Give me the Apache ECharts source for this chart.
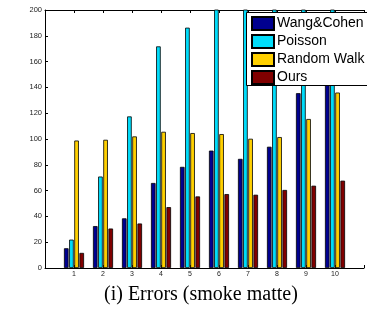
<!DOCTYPE html>
<html>
<head>
<meta charset="utf-8">
<script src="https://cdn.jsdelivr.net/npm/echarts@6/dist/echarts.min.js"></script>
<style>
  html, body { margin: 0; padding: 0; background: #fff; }
  #chart { width: 367px; height: 312px; }
</style>
</head>
<body>
<div id="chart"></div>
<script>
// x positions of the groups and their tick labels
const categories = [1, 2, 3, 4, 5, 6, 7, 8, 9, 10];
const xTickLabels = ['1', '2', '3', '4', '5', '6', '7', '8', '9', '10'];

// errors per method (Poisson 6-10 run off the top of the axes)
const wangCohen = [15.3, 32.5, 38.5, 65.9, 78.4, 91, 84.6, 94, 135.5, 150];
const poisson = [22, 70.9, 117.5, 171.8, 186.3, 215, 225, 240, 260, 280];
const randomWalk = [98.8, 99.4, 102, 105.6, 104.6, 103.8, 100.2, 101.5, 115.5, 136];
const ours = [11.7, 30.6, 34.5, 47.2, 55.5, 57.3, 56.8, 60.5, 63.8, 67.7];

const seriesNames = ['Wang&Cohen', 'Poisson', 'Random Walk', 'Ours'];
const seriesColors = ['#00008f', '#00dcfa', '#ffd000', '#800000'];
const seriesValues = [wangCohen, poisson, randomWalk, ours];

const chart = echarts.init(document.getElementById('chart'));

/**
 * x axis shared settings (bottom with labels, top as box edge)
 */
const xAxisBase = {
  type: 'value',
  min: 0,
  max: 11,
  interval: 1,
  splitLine: { show: false },
  axisLine: { show: true, onZero: false, lineStyle: { color: '#000', width: 1 } },
  axisTick: { show: true, inside: true, length: 3, lineStyle: { color: '#000' } },
};

const option = {
  animation: false,
  title: {
    text: '(i) Errors (smoke matte)',
    left: 99,
    top: 280,
    textStyle: {
      fontFamily: 'Liberation Serif',
      fontSize: 20,
      fontWeight: 'normal',
      color: '#000',
    },
  },
  // legend frame runs off the right edge, like the cropped figure
  graphic: [
    {
      type: 'rect',
      z: 3,
      shape: { x: 246.5, y: 12.5, width: 140, height: 73 },
      style: { fill: '#fff', stroke: '#000', lineWidth: 1 },
    },
  ],
  legend: {
    orient: 'vertical',
    left: 246,
    top: 12,
    z: 5,
    padding: [4, 0, 1, 5],
    itemWidth: 22,
    itemHeight: 13,
    itemGap: 3,
    icon: 'rect',
    textStyle: {
      fontFamily: 'Liberation Sans',
      fontSize: 14,
      color: '#000',
      padding: [0, 0, 0, -2],
    },
    data: seriesNames,
  },
  grid: { left: 45, top: 10, bottom: 44, right: -5 },
  xAxis: [
    Object.assign({}, xAxisBase, {
      position: 'bottom',
      axisLabel: {
        margin: 3,
        fontFamily: 'Liberation Sans',
        fontSize: 7,
        color: '#222',
        formatter: (v) => xTickLabels[categories.indexOf(v)] || '',
      },
    }),
    Object.assign({}, xAxisBase, {
      position: 'top',
      axisLabel: { show: false },
    }),
  ],
  yAxis: {
    type: 'value',
    min: 0,
    max: 200,
    interval: 20,
    splitLine: { show: false },
    axisLine: { show: true, lineStyle: { color: '#000', width: 1 } },
    axisTick: { show: true, inside: true, length: 3, lineStyle: { color: '#000' } },
    axisLabel: {
      margin: 3,
      fontFamily: 'Liberation Sans',
      fontSize: 7.5,
      color: '#222',
    },
  },
  series: seriesNames.map((name, i) => ({
    name: name,
    type: 'bar',
    xAxisIndex: 0,
    barWidth: 4.6,
    barGap: '12%',
    clip: true,
    itemStyle: { color: seriesColors[i], borderColor: '#000', borderWidth: 0.8 },
    data: categories.map((c, j) => [c, seriesValues[i][j]]),
  })),
};

chart.setOption(option);
</script>
</body>
</html>
